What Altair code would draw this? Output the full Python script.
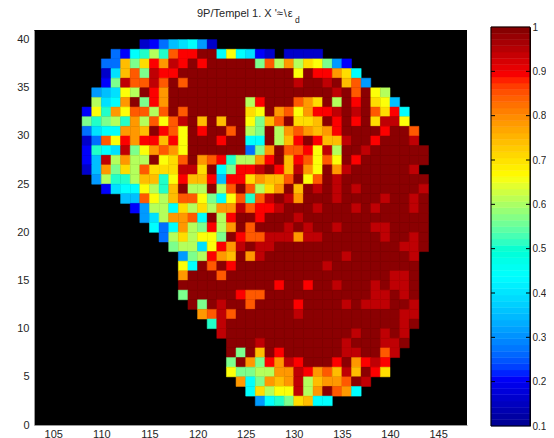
import altair as alt
import pandas as pd

# value carried by each colour code seen in the picture
CODES = {"n": .161, "b": .21, "e": .269, "B": .311, "s": .354, "c": .396, "C": .44,
         "g": .508, "l": .565, "L": .607, "y": .66, "Y": .704, "o": .742, "O": .784,
         "r": .845, "R": .89, "d": .943, "D": .99}

# (row, first column, cell codes); "." = no data
ROWS = [
 (39, 114, "nbescCBn"),
 (38, 111, "ebCgLgrRRDDCyCcbn.nnnn"),
 (37, 110, "eeolYROdRDRDDDDDlrLOLYylBb"),
 (36, 110, "ncorldRR" + "D"*12 + "yDRROYC"),
 (35, 110, "bldrrdrDr" + "D"*11 + "dDDdDorB"),
 (34, 109, "BscyLDRO" + "D"*17 + "dDrDyL"),
 (33, 109, "LcCODlRO" + "D"*8 + "LRDDDrOYDLDRDYys"),
 (32, 108, "bygOyrrLrDr" + "D"*6 + "YyDOryORRdDdDrYRC"),
 (31, 108, "lglLgOLryrdDoDoDDylorDYYoDRDRDYddy"),
 (30, 108, "ecCCOOoDRryDRDDrDLlDLOrOoORDDDDRDDr"),
 (29, 108, "neryRORRoRyDDDRDDCCDLoRDRoodDDRDDDd"),
 (28, 108, "bgCcdlyOrOy" + "D"*6 + "elODrrRydLDDd" + "D"*6),
 (27, 108, "bsdLOLLDyYrDOrRgLLORDoRryryDR" + "D"*7),
 (26, 108, "nsOlYLrYYYddYDClRRdDRodOyDOd" + "D"*6 + "d"),
 (25, 109, "BLggLoogyRooRsRRYOoorDyrDd" + "D"*9),
 (24, 110, "bcCCyLgoDLLDLrDrLYODoDdDdDd" + "D"*6 + "d"),
 (23, 112, "ssryLorrylCyrgrdDdODDDdDDDDdDDdD"),
 (22, 113, "bBLLCYLYLOOdrRRdDDDdDDDdDdDDDdD"),
 (21, 114, "BcLOOrCDLRDDRDDDd" + "D"*13),
 (20, 115, "CeCOLlRLODrDDDdDdDDdDDDddDDDD"),
 (19, 116, "eLYLyylDRrrdddOdd" + "D"*6 + "dDDdD"),
 (18, 117, "lLLcyROdDdd" + "D"*13 + "ddD"),
 (17, 118, "BlLROoDOd" + "D"*8 + "d" + "D"*6 + "d"),
 (16, 118, "yCDrDR" + "D"*9 + "d" + "D"*9),
 (15, 118, "ODDDr" + "D"*17 + "ddD"),
 (14, 118, "D"*10 + "RDDRDDdDDDdDddD"),
 (13, 118, "lDDDDDRrr" + "D"*11 + "ddDdD"),
 (12, 119, "DlDdDDrDDDDRDDDDdDdddDDd"),
 (11, 120, "OrdrDDDDDDd" + "D"*10 + "dd"),
 (10, 121, "gd" + "D"*18 + "dD"),
 (9, 122, "d" + "D"*13 + "dDDdDd"),
 (8, 123, "DDDd" + "D"*8 + "dDDDddD"),
 (7, 123, "DlDoDR" + "D"*6 + "ddDDrd"),
 (6, 123, "lDOlROdRDDDRDORdR"),
 (5, 123, "yllLLOOdROrodoDRY"),
 (4, 124, "OClOoOdLoOOrDd"),
 (3, 125, "CYLyydLODrOC"),
 (2, 126, "BCglYoCC"),
]

X_TICKS = [105, 110, 115, 120, 125, 130, 135, 140, 145]
Y_TICKS = [0, 5, 10, 15, 20, 25, 30, 35, 40]
BAR_TICKS = [.1, .2, .3, .4, .5, .6, .7, .8, .9, 1]
JET_STOPS = [.1, .2125, .4375, .6625, .8875, 1]
JET_COLORS = ["#00008f", "#0000ff", "#00ffff", "#ffff00", "#ff0000", "#800000"]
FONT = "Liberation Sans"
INK = "#262626"

cells = []
for row, start, codes in ROWS:
    for i, ch in enumerate(codes):
        if ch != ".":
            cells.append({"x": start + i, "x2": start + i + 1, "y": row, "y2": row + 1, "v": CODES[ch]})
cells = pd.DataFrame(cells)

levels = pd.DataFrame([{"lo": .1 + .9 * i / 64, "hi": .1 + .9 * (i + 1) / 64,
                        "v": .1 + .9 * (i + .5) / 64} for i in range(64)])

JET = alt.Scale(domain=JET_STOPS, range=JET_COLORS, clamp=True)
color = alt.Color("v:Q", legend=None, scale=JET)
stroke = alt.Stroke("v:Q", legend=None, scale=JET)

W, H = 433, 395
BAR_L, BAR_R = W + 24, W + 63
BAR_SCALE = alt.Scale(domain=[.1, 1], range=[H + 1, -3], nice=False, zero=False)

heat = alt.Chart(cells).mark_rect(strokeWidth=0.5).encode(
    x=alt.X("x:Q", scale=alt.Scale(domain=[103, 148], nice=False, zero=False),
            axis=alt.Axis(values=X_TICKS, title=None, grid=False, tickSize=0, labelPadding=3,
                          labelFont=FONT, labelFontSize=11, labelColor=INK,
                          domainColor="#999999", labelFlush=False)),
    x2="x2:Q",
    y=alt.Y("y:Q", scale=alt.Scale(domain=[0, 41], nice=False, zero=False),
            axis=alt.Axis(values=Y_TICKS, title=None, grid=False, tickSize=0, labelPadding=5,
                          labelFont=FONT, labelFontSize=11, labelColor=INK,
                          domainColor="#999999", labelFlush=False)),
    y2="y2:Q",
    color=color,
    stroke=stroke,
)

bar = alt.Chart(levels).mark_rect(strokeWidth=0.5).encode(
    x=alt.value(BAR_L), x2=alt.value(BAR_R),
    y=alt.Y("lo:Q", scale=BAR_SCALE,
            axis=alt.Axis(orient="right", offset=63, values=BAR_TICKS, title=None, grid=False,
                          tickSize=0, labelPadding=2, labelFont=FONT, labelFontSize=10,
                          labelColor=INK, domainColor="black", labelFlush=False,
                          format="~g")),
    y2="hi:Q",
    color=color,
    stroke=stroke,
)

ticks_df = pd.DataFrame({"t": BAR_TICKS[1:-1]})
tick_l = alt.Chart(ticks_df).mark_rule(color="black", strokeWidth=1).encode(
    x=alt.value(BAR_L), x2=alt.value(BAR_L + 4), y=alt.Y("t:Q", scale=BAR_SCALE, axis=None))
tick_r = alt.Chart(ticks_df).mark_rule(color="black", strokeWidth=1).encode(
    x=alt.value(BAR_R - 4), x2=alt.value(BAR_R), y=alt.Y("t:Q", scale=BAR_SCALE, axis=None))
frame_df = pd.DataFrame({"a": [.1], "b": [1]})
frame = alt.Chart(frame_df).mark_rect(fill=None, stroke="black", strokeWidth=1).encode(
    x=alt.value(BAR_L), x2=alt.value(BAR_R),
    y=alt.Y("a:Q", scale=BAR_SCALE, axis=None), y2="b:Q")

title1 = alt.Chart(pd.DataFrame({"t": ["9P/Tempel 1. X '≈\u200a\\\u200aε"]})).mark_text(
    font=FONT, fontSize=11, color=INK, align="left", baseline="middle").encode(
    x=alt.value(163), y=alt.value(-16), text="t:N")
title2 = alt.Chart(pd.DataFrame({"t": ["d"]})).mark_text(
    font=FONT, fontSize=8.5, color=INK, align="left", baseline="middle").encode(
    x=alt.value(261), y=alt.value(-10), text="t:N")

chart = alt.layer(heat, bar, tick_l, tick_r, frame, title1, title2).resolve_scale(
    x="independent", y="independent"
).properties(
    width=W, height=H,
    autosize=alt.AutoSizeParams(type="none"),
    padding={"left": 26, "top": 22, "right": 79, "bottom": 13},
).configure_view(fill="black", stroke=None)

chart.save("out.html", embed_options={"renderer": "svg", "actions": False})
